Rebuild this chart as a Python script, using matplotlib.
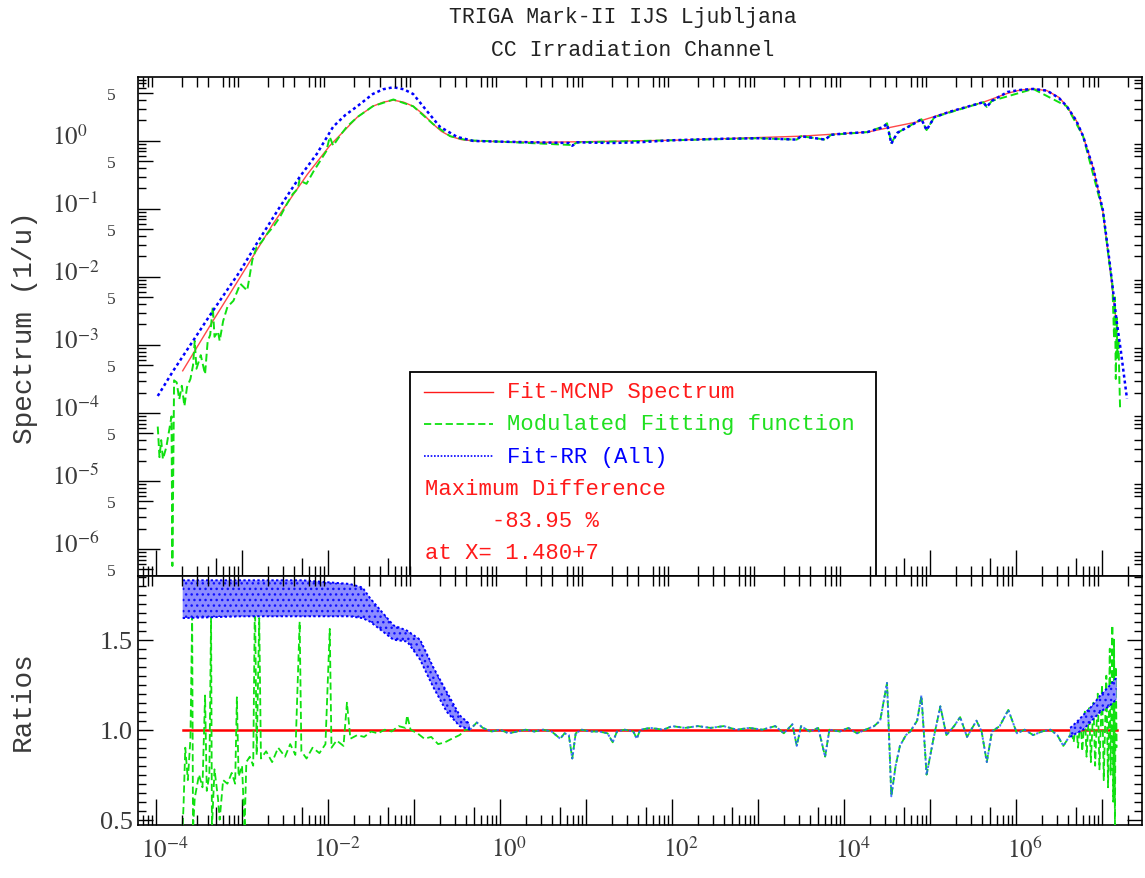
import numpy as np
import matplotlib
matplotlib.use('Agg')
import matplotlib.pyplot as plt
import matplotlib.transforms as mtransforms
from matplotlib.ticker import FixedLocator, FuncFormatter, NullLocator, NullFormatter
from matplotlib.patches import Rectangle
from matplotlib.lines import Line2D

plt.rcParams['font.family'] = ['Liberation Serif', 'DejaVu Serif']
plt.rcParams['mathtext.fontset'] = 'stix'
plt.rcParams['hatch.linewidth'] = 1.0

MONO = ['Liberation Mono', 'DejaVu Sans Mono']
RED = '#ff1a1a'
GREEN = '#10e010'
BLUE = '#0000ff'
GREY = '#3a3a3a'

# ---- upper panel: (log10 E [eV], log10 spectrum [1/u])
red_upper = [(-3.69, -3.38), (-3.34, -2.65), (-3.02, -2.00), (-2.64, -1.22), (-2.24, -0.49),
             (-1.98, -0.07), (-1.66, 0.35), (-1.48, 0.51), (-1.36, 0.57), (-1.24, 0.60),
             (-1.12, 0.57), (-1.01, 0.51), (-0.90, 0.40), (-0.78, 0.25), (-0.68, 0.14),
             (-0.58, 0.07), (-0.45, 0.02), (-0.30, 0.0), (0.0, -0.01), (0.5, -0.02),
             (1.0, -0.01), (1.5, 0.0), (2.0, 0.01), (2.5, 0.03), (3.0, 0.05), (3.5, 0.07),
             (4.0, 0.11), (4.27, 0.13), (4.5, 0.19), (4.85, 0.28), (5.23, 0.43), (5.62, 0.57),
             (5.9, 0.70), (6.05, 0.75), (6.2, 0.765), (6.36, 0.74), (6.5, 0.64), (6.59, 0.51),
             (6.7, 0.30), (6.78, 0.07), (6.9, -0.41), (7.01, -1.04), (7.09, -1.84), (7.17, -2.72)]

blue_upper = [(-3.98, -3.75), (-3.80, -3.38), (-3.57, -2.94), (-3.34, -2.50), (-3.02, -1.91),
              (-2.83, -1.51), (-2.56, -0.97), (-2.33, -0.53), (-2.13, -0.19), (-1.94, 0.21),
              (-1.80, 0.38), (-1.66, 0.51), (-1.48, 0.69), (-1.36, 0.76), (-1.24, 0.79),
              (-1.12, 0.76), (-1.01, 0.69), (-0.85, 0.44), (-0.70, 0.21), (-0.50, 0.06),
              (-0.31, 0.0), (0.0, -0.01), (0.4, -0.02), (0.80, -0.03), (0.84, -0.07),
              (0.9, -0.02), (1.3, -0.03), (1.6, -0.02), (2.0, 0.01), (2.5, 0.03), (3.0, 0.04),
              (3.45, 0.02), (3.5, 0.07), (3.78, 0.02), (3.85, 0.09), (4.0, 0.11), (4.27, 0.13),
              (4.45, 0.20), (4.50, 0.25), (4.55, -0.04), (4.62, 0.12), (4.85, 0.28),
              (4.90, 0.32), (4.96, 0.16), (5.05, 0.35), (5.23, 0.43), (5.62, 0.57),
              (5.66, 0.50), (5.72, 0.59), (5.9, 0.72), (6.05, 0.75), (6.2, 0.765), (6.36, 0.74),
              (6.5, 0.63), (6.59, 0.51), (6.7, 0.30), (6.78, 0.07), (6.9, -0.41), (7.01, -1.02),
              (7.09, -1.80), (7.17, -2.65), (7.22, -3.10), (7.29, -3.79)]

green_upper = [(-3.98, -4.20), (-3.96, -4.65), (-3.94, -4.40), (-3.92, -4.68), (-3.88, -4.50),
               (-3.82, -4.05), (-3.81, -6.25), (-3.79, -3.52), (-3.76, -3.55), (-3.73, -3.80),
               (-3.70, -3.60), (-3.67, -3.90), (-3.64, -3.62), (-3.60, -3.50), (-3.57, -3.30),
               (-3.55, -2.94), (-3.53, -3.35), (-3.48, -3.15), (-3.43, -3.43), (-3.40, -2.95),
               (-3.37, -2.85), (-3.34, -2.44), (-3.32, -2.88), (-3.28, -2.80), (-3.26, -2.94),
               (-3.22, -2.65), (-3.17, -2.44), (-3.10, -2.35), (-3.02, -2.10), (-2.94, -2.20),
               (-2.88, -1.75), (-2.83, -1.56), (-2.77, -1.48), (-2.71, -1.37), (-2.63, -1.25),
               (-2.56, -1.12), (-2.48, -0.93), (-2.41, -0.78), (-2.35, -0.70), (-2.33, -0.56),
               (-2.30, -0.60), (-2.25, -0.63), (-2.17, -0.45), (-2.09, -0.29), (-2.02, -0.15),
               (-1.98, 0.06), (-1.94, -0.07), (-1.86, 0.08), (-1.78, 0.21), (-1.66, 0.35),
               (-1.48, 0.51), (-1.24, 0.61), (-1.01, 0.51), (-0.78, 0.25), (-0.58, 0.07),
               (-0.38, 0.01), (0.0, -0.01), (0.84, -0.06), (0.9, -0.02), (2.0, 0.01),
               (3.0, 0.04), (3.45, 0.02), (3.5, 0.07), (3.78, 0.02), (3.85, 0.09), (4.27, 0.13),
               (4.45, 0.21), (4.50, 0.26), (4.55, -0.03), (4.62, 0.12), (4.90, 0.32),
               (4.96, 0.16), (5.05, 0.35), (5.62, 0.57), (5.66, 0.50), (5.72, 0.59),
               (6.2, 0.765), (6.59, 0.51), (6.78, 0.07), (7.01, -1.04), (7.09, -1.84),
               (7.12, -2.10), (7.14, -2.90), (7.15, -2.30), (7.16, -3.50), (7.17, -2.60),
               (7.18, -3.20), (7.19, -2.90), (7.21, -3.94)]

# ---- lower panel: ratios (log10 E, ratio)
red_ratio = [(-3.69, 1.0), (7.17, 1.0)]

ratio_mid = [(-0.35, 1.00), (-0.27, 1.04), (-0.2, 1.01), (-0.1, 0.99), (0.0, 1.00), (0.1, 0.98),
             (0.2, 0.99), (0.3, 1.00), (0.4, 0.99), (0.5, 1.00), (0.6, 0.99), (0.7, 0.95),
             (0.75, 0.98), (0.8, 0.97), (0.84, 0.84), (0.88, 0.98), (0.95, 1.00), (1.05, 0.99),
             (1.15, 0.99), (1.25, 0.98), (1.31, 0.93), (1.36, 0.99), (1.45, 1.00), (1.55, 0.99),
             (1.59, 0.95), (1.63, 1.00), (1.75, 1.01), (1.9, 1.00), (2.0, 1.02), (2.15, 1.01),
             (2.3, 1.02), (2.45, 1.01), (2.6, 1.02), (2.75, 1.00), (2.9, 1.01), (3.05, 1.00),
             (3.2, 1.02), (3.3, 0.98), (3.4, 1.03), (3.45, 0.91), (3.5, 1.02), (3.6, 0.99),
             (3.7, 1.01), (3.78, 0.85), (3.83, 1.00), (3.95, 0.99), (4.05, 1.01), (4.15, 0.98),
             (4.25, 1.00), (4.35, 1.02), (4.42, 1.05), (4.50, 1.26), (4.55, 0.63), (4.60, 0.80),
             (4.65, 0.91), (4.72, 0.97), (4.77, 0.99), (4.85, 1.05), (4.90, 1.19), (4.96, 0.75),
             (5.04, 0.95), (5.12, 1.13), (5.19, 0.97), (5.28, 1.02), (5.35, 1.07), (5.43, 0.96),
             (5.54, 1.05), (5.60, 0.99), (5.66, 0.82), (5.72, 0.99), (5.81, 1.02), (5.91, 1.11),
             (6.01, 0.98), (6.10, 1.00), (6.20, 0.97), (6.30, 0.99), (6.40, 1.00), (6.48, 0.97),
             (6.55, 0.91), (6.63, 0.97)]

green_ratio_thermal = [(-3.69, 0.47), (-3.68, 0.58), (-3.66, 0.90), (-3.63, 0.72), (-3.60, 0.95),
                       (-3.58, 1.63), (-3.57, 0.45), (-3.55, 0.62), (-3.50, 0.75), (-3.46, 0.68),
                       (-3.43, 1.19), (-3.41, 0.66), (-3.38, 0.75), (-3.36, 1.63), (-3.35, 0.45),
                       (-3.32, 0.78), (-3.28, 0.62), (-3.26, 0.50), (-3.22, 0.72), (-3.17, 0.70),
                       (-3.12, 0.76), (-3.08, 0.70), (-3.06, 1.18), (-3.04, 0.74), (-3.00, 0.80),
                       (-2.97, 0.45), (-2.95, 0.82), (-2.91, 0.85), (-2.87, 0.80), (-2.85, 1.75),
                       (-2.83, 0.86), (-2.80, 1.62), (-2.78, 0.84), (-2.72, 0.88), (-2.65, 0.82),
                       (-2.58, 0.90), (-2.50, 0.85), (-2.44, 0.92), (-2.38, 0.86), (-2.33, 1.60),
                       (-2.31, 0.88), (-2.25, 0.84), (-2.18, 0.90), (-2.10, 0.87), (-2.03, 0.92),
                       (-1.98, 1.56), (-1.96, 0.90), (-1.90, 0.94), (-1.82, 0.91), (-1.78, 1.15),
                       (-1.74, 0.95), (-1.66, 0.97), (-1.58, 0.96), (-1.50, 0.99), (-1.42, 0.98),
                       (-1.34, 1.00), (-1.26, 0.99), (-1.18, 1.02), (-1.10, 1.01), (-1.08, 1.08),
                       (-1.04, 1.00), (-0.96, 0.98), (-0.88, 0.95), (-0.80, 0.96), (-0.72, 0.92),
                       (-0.64, 0.93), (-0.56, 0.95), (-0.47, 0.97), (-0.40, 1.00)]

green_ratio_fast = [(6.64, 1.00), (6.67, 0.93), (6.70, 1.04), (6.72, 0.90), (6.75, 1.06),
                    (6.77, 0.88), (6.80, 1.10), (6.82, 0.85), (6.85, 1.12), (6.87, 0.82),
                    (6.90, 1.15), (6.92, 0.80), (6.95, 1.20), (6.97, 0.78), (7.00, 1.25),
                    (7.02, 0.72), (7.05, 1.30), (7.07, 0.68), (7.09, 1.45), (7.10, 0.75),
                    (7.12, 1.58), (7.13, 0.60), (7.14, 1.50), (7.15, 0.47), (7.16, 1.35),
                    (7.17, 0.90)]

# blue ratio drawn as a band (dense scatter in the original)
band_thermal_logE = [-3.69, -3.0, -2.3, -1.75, -1.6, -1.51, -1.24, -1.08, -0.93, -0.78, -0.62, -0.47, -0.35]
band_thermal_hi = [1.83, 1.83, 1.83, 1.81, 1.79, 1.73, 1.58, 1.55, 1.50, 1.35, 1.21, 1.08, 1.03]
band_thermal_lo = [1.62, 1.63, 1.63, 1.63, 1.62, 1.60, 1.50, 1.49, 1.39, 1.24, 1.10, 1.02, 1.00]
band_fast_logE = [6.63, 6.70, 6.78, 6.88, 6.98, 7.08, 7.17]
band_fast_hi = [1.01, 1.04, 1.08, 1.13, 1.19, 1.24, 1.29]
band_fast_lo = [0.96, 0.98, 1.00, 1.05, 1.10, 1.13, 1.17]

legend_labels = ['Fit-MCNP Spectrum', 'Modulated Fitting function', 'Fit-RR (All)']
info_lines = ['Maximum Difference', '     -83.95 %', 'at X= 1.480+7']

title_lines = ['TRIGA Mark-II IJS Ljubljana', 'CC Irradiation Channel']


def xy(pairs):
    a = np.array(pairs, dtype=float)
    return 10.0 ** a[:, 0], a[:, 1]


def log_xy(pairs):
    a = np.array(pairs, dtype=float)
    return 10.0 ** a[:, 0], 10.0 ** a[:, 1]


XLIM = (10 ** -4.21, 10 ** 7.465)
decades = np.arange(-4, 8)
x_major = 10.0 ** decades
x_five = 5 * 10.0 ** decades
x_short = np.concatenate([m * 10.0 ** np.arange(-5, 8) for m in (2, 3, 4, 6, 7, 8, 9)])
x_short = x_short[(x_short > XLIM[0]) & (x_short < XLIM[1])]

YLIM = (10 ** -6.397, 10 ** 0.941)
y_dec = np.arange(-6, 1)
y_major = 10.0 ** y_dec
y_five = 5 * 10.0 ** np.arange(-7, 1)
y_short = np.concatenate([m * 10.0 ** np.arange(-7, 1) for m in (2, 3, 4, 6, 7, 8, 9)])
y_short = y_short[(y_short > YLIM[0]) & (y_short < YLIM[1])]

fig = plt.figure(figsize=(11.45, 8.79), dpi=100)
ax1 = fig.add_axes([0.1205, 0.3436, 0.8769, 0.5677])
ax2 = fig.add_axes([0.1205, 0.0603, 0.8769, 0.2833])

# ---------- upper panel ----------
ex, ey = log_xy(red_upper)
ax1.plot(ex, ey, color=RED, lw=1.0, alpha=0.8, zorder=3)
ex, ey = log_xy(green_upper)
ax1.plot(ex, ey, color=GREEN, lw=1.4, dashes=(4, 2), zorder=4)
ex, ey = log_xy(blue_upper)
ax1.plot(ex, ey, color=BLUE, lw=1.8, dashes=(1.2, 1.2), zorder=5)

ax1.set_xscale('log')
ax1.set_yscale('log')
ax1.set_xlim(XLIM)
ax1.set_ylim(YLIM)

# ---------- lower panel ----------
ex, ey = xy(red_ratio)
ax2.plot(ex, ey, color='#ff0000', lw=1.8, zorder=3)
ex, ey = xy(green_ratio_thermal + ratio_mid + green_ratio_fast)
ax2.plot(ex, ey, color=GREEN, lw=1.3, dashes=(4, 2), zorder=4)
ex, ey = xy(ratio_mid)
ax2.plot(ex, ey, color='#2a5cff', lw=1.4, dashes=(1.2, 1.2), zorder=5, alpha=0.85)
for bx, hi, lo in ((band_thermal_logE, band_thermal_hi, band_thermal_lo),
                   (band_fast_logE, band_fast_hi, band_fast_lo)):
    bx = 10.0 ** np.array(bx)
    ax2.fill_between(bx, lo, hi, facecolor='#8c8cff', edgecolor='#1010ff', hatch='...',
                     lw=0, zorder=5)
    ax2.plot(bx, hi, color=BLUE, lw=1.4, dashes=(1.2, 1.2), zorder=6)
    ax2.plot(bx, lo, color=BLUE, lw=1.4, dashes=(1.2, 1.2), zorder=6)

ax2.set_xscale('log')
ax2.set_xlim(XLIM)
ax2.set_ylim(0.4706, 1.854)

# ---------- ticks ----------
for ax in (ax1, ax2):
    ax.xaxis.set_major_locator(FixedLocator(x_major))
    ax.xaxis.set_minor_locator(FixedLocator(x_five))
    ax.xaxis.set_minor_formatter(NullFormatter())
    ax.tick_params(axis='x', which='major', direction='in', length=19, width=1.0,
                   top=True, bottom=True)
    ax.tick_params(axis='x', which='minor', direction='in', length=13, width=1.0,
                   top=True, bottom=True)
    for sp in ax.spines.values():
        sp.set_linewidth(1.2)
    tw = ax.twiny()
    tw.set_xscale('log')
    tw.set_xlim(XLIM)
    tw.xaxis.set_major_locator(FixedLocator(x_short))
    tw.xaxis.set_minor_locator(NullLocator())
    tw.xaxis.set_major_formatter(NullFormatter())
    tw.tick_params(axis='x', which='major', direction='in', length=7.5, width=1.0,
                   top=True, bottom=True, labeltop=False, labelbottom=False)
    for sp in tw.spines.values():
        sp.set_visible(False)

ax1.xaxis.set_major_formatter(NullFormatter())


def x_label(v, pos):
    k = int(round(np.log10(v)))
    return r'$10^{%d}$' % k if k % 2 == 0 else ''


ax2.xaxis.set_major_formatter(FuncFormatter(x_label))
ax2.tick_params(axis='x', which='major', labelsize=18, labelcolor=GREY, pad=8)
shift = mtransforms.ScaledTranslation(9 / 100, 0, fig.dpi_scale_trans)
for lab in ax2.get_xticklabels():
    lab.set_transform(lab.get_transform() + shift)

# upper y axis
ax1.yaxis.set_major_locator(FixedLocator(y_major))
ax1.yaxis.set_minor_locator(FixedLocator(y_five))
ax1.yaxis.set_major_formatter(FuncFormatter(lambda v, p: r'$10^{%d}$' % int(round(np.log10(v)))))
ax1.yaxis.set_minor_formatter(FuncFormatter(lambda v, p: '5'))
ax1.tick_params(axis='y', which='major', direction='in', length=16, width=1.0,
                left=True, right=True, labelsize=18, labelcolor=GREY, pad=62)
ax1.tick_params(axis='y', which='minor', direction='in', length=11, width=1.0,
                left=True, right=True, labelsize=12.5, labelcolor=GREY, pad=16)
lift = mtransforms.ScaledTranslation(0, 7 / 100, fig.dpi_scale_trans)
for lab in ax1.get_yticklabels():
    lab.set_horizontalalignment('left')
    lab.set_transform(lab.get_transform() + lift)
ty = ax1.twinx()
ty.set_yscale('log')
ty.set_ylim(YLIM)
ty.yaxis.set_major_locator(FixedLocator(y_short))
ty.yaxis.set_minor_locator(NullLocator())
ty.yaxis.set_major_formatter(NullFormatter())
ty.tick_params(axis='y', which='major', direction='in', length=6, width=1.0,
               left=True, right=True, labelleft=False, labelright=False)
for sp in ty.spines.values():
    sp.set_visible(False)

# lower y axis
ax2.yaxis.set_major_locator(FixedLocator([0.5, 1.0, 1.5]))
ax2.yaxis.set_minor_locator(FixedLocator(np.arange(0.5, 1.86, 0.05)))
ax2.yaxis.set_major_formatter(FuncFormatter(lambda v, p: '%.1f' % v))
ax2.tick_params(axis='y', which='major', direction='in', length=11, width=1.0,
                left=True, right=True, labelsize=19, labelcolor=GREY, pad=4)
ax2.tick_params(axis='y', which='minor', direction='in', length=6, width=1.0,
                left=True, right=True)

# axis labels and title
fig.text(25 / 1145, 1 - 328 / 879, 'Spectrum (1/u)', rotation=90, family=MONO,
         fontsize=20, color=GREY, ha='center', va='center')
fig.text(23 / 1145, 1 - 701 / 879, 'Ratios', rotation=90, family=MONO,
         fontsize=20, color=GREY, ha='center', va='center')
fig.text(623 / 1145, 1 - 18 / 879, title_lines[0], family=MONO, fontsize=15.5,
         color='#222222', ha='center', va='center')
fig.text(633 / 1145, 1 - 50 / 879, title_lines[1], family=MONO, fontsize=15.5,
         color='#222222', ha='center', va='center')

# legend box
box = Rectangle((0.271, 0.0), 0.464, 0.409, transform=ax1.transAxes,
                facecolor='white', edgecolor='black', lw=1.3, zorder=20)
ax1.add_patch(box)
row_y = [0.369, 0.305, 0.240, 0.176, 0.112, 0.048]
samples = [dict(color=RED, lw=1.0), dict(color=GREEN, lw=1.3, dashes=(4, 2)),
           dict(color=BLUE, lw=1.2, dashes=(1, 1))]
text_cols = [RED, '#20e020', BLUE]
for i, lab in enumerate(legend_labels):
    ax1.add_line(Line2D([0.285, 0.354], [row_y[i], row_y[i]], transform=ax1.transAxes,
                        zorder=21, **samples[i]))
    ax1.text(0.3675, row_y[i], lab, transform=ax1.transAxes, family=MONO, fontsize=16,
             color=text_cols[i], ha='left', va='center', zorder=21)
for j, line in enumerate(info_lines):
    ax1.text(0.286, row_y[3 + j], line, transform=ax1.transAxes, family=MONO, fontsize=16,
             color=RED, ha='left', va='center', zorder=21)

fig.savefig('out.png', dpi=100)
